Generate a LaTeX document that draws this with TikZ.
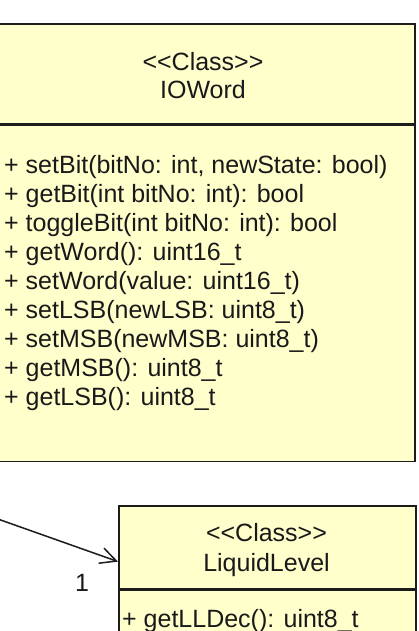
\documentclass[tikz,border=0pt]{standalone}
\usepackage{fontspec}
\newfontfamily\umlfont{Liberation Sans}
\usetikzlibrary{arrows.meta,positioning}
\definecolor{classfill}{HTML}{FFFFCC}
\definecolor{classline}{HTML}{1C1C1C}
\tikzset{
  classbox/.style={draw=classline, fill=classfill, line width=1.6pt, inner sep=0pt},
  umltext/.style={font=\umlfont\fontsize{25}{29}\selectfont, text=black!90, inner sep=0pt},
  optext/.style={umltext, anchor=base west},
  assoc/.style={draw=classline, line width=1.5pt, -{Straight Barb[length=16pt,width=16pt]}},
}

\begin{document}
\begin{tikzpicture}[x=1pt,y=-1pt]
  \clip (0,0) rectangle (419,631);
  \fill[white] (0,0) rectangle (419,631);
  % IOWord class
  \node[classbox, minimum width=424pt, minimum height=100pt] (iohead) at (203,74) {};
  \node[classbox, anchor=north, minimum width=424pt, minimum height=336pt] (iobody) at (iohead.south) {};
  \node[umltext, anchor=base] (iostereo) at (203,71) {<<Class>>};
  \node[umltext, anchor=base] (ioname) at (203,99) {IOWord};
  \foreach \op [count=\i] in {
      {+ setBit(bitNo: int, newState: bool)},
      {+ getBit(int bitNo: int): bool},
      {+ toggleBit(int bitNo: int): bool},
      {+ getWord(): uint16\_t},
      {+ setWord(value: uint16\_t)},
      {+ setLSB(newLSB: uint8\_t)},
      {+ setMSB(newMSB: uint8\_t)},
      {+ getMSB(): uint8\_t},
      {+ getLSB(): uint8\_t}}
    \node[optext] (ioop\i) at (4,{144+29*\i}) {\op};
  % LiquidLevel class
  \node[classbox, anchor=north west, minimum width=297pt, minimum height=83pt] (llhead) at (118,505) {};
  \node[classbox, anchor=north, minimum width=297pt, minimum height=80pt] (llbody) at (llhead.south) {};
  \node[umltext, anchor=base] (llstereo) at (266.5,541) {<<Class>>};
  \node[umltext, anchor=base] (llname) at (266.5,571) {LiquidLevel};
  \node[optext] (llop1) at (122,627) {+ getLLDec(): uint8\_t};
  % association
  \coordinate (assocsrc) at (-5,518);
  \draw[assoc] (assocsrc) -- ([yshift=28pt]llhead.south west);
  \node[umltext] (llmult) at (82,583) {1};
\end{tikzpicture}
\end{document}
